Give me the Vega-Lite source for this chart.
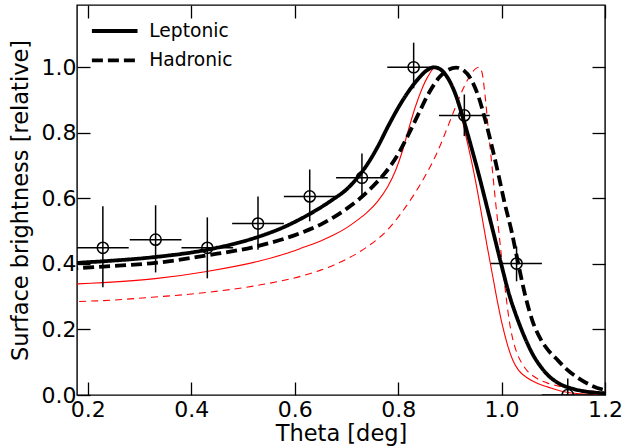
{
  "$schema": "https://vega.github.io/schema/vega-lite/v6.json",
  "width": 528,
  "height": 390,
  "autosize": "none",
  "padding": {"left": 77, "top": 5, "right": 20, "bottom": 53},
  "background": "white",
  "config": {
    "font": "DejaVu Sans",
    "view": {"stroke": "black", "strokeWidth": 1.4},
    "axis": {
      "grid": false,
      "domain": false,
      "tickColor": "black",
      "tickWidth": 1.3,
      "tickSize": -13,
      "labelColor": "black",
      "labelFont": "DejaVu Sans",
      "labelFontSize": 22,
      "labelFlush": false,
      "labelOverlap": false,
      "labelBound": false,
      "titleFont": "DejaVu Sans",
      "titleFontSize": 22.5,
      "titleFontWeight": "normal",
      "titleColor": "black"
    }
  },
  "datasets": {
    "curves": [
      {"theta": 0.16, "brightness": 0.400, "model": "Leptonic", "variant": "main"},
      {"theta": 0.18, "brightness": 0.403, "model": "Leptonic", "variant": "main"},
      {"theta": 0.23, "brightness": 0.408, "model": "Leptonic", "variant": "main"},
      {"theta": 0.33, "brightness": 0.421, "model": "Leptonic", "variant": "main"},
      {"theta": 0.43, "brightness": 0.443, "model": "Leptonic", "variant": "main"},
      {"theta": 0.53, "brightness": 0.483, "model": "Leptonic", "variant": "main"},
      {"theta": 0.58, "brightness": 0.513, "model": "Leptonic", "variant": "main"},
      {"theta": 0.611, "brightness": 0.537, "model": "Leptonic", "variant": "main"},
      {"theta": 0.65, "brightness": 0.572, "model": "Leptonic", "variant": "main"},
      {"theta": 0.675, "brightness": 0.598, "model": "Leptonic", "variant": "main"},
      {"theta": 0.70, "brightness": 0.627, "model": "Leptonic", "variant": "main"},
      {"theta": 0.72, "brightness": 0.661, "model": "Leptonic", "variant": "main"},
      {"theta": 0.74, "brightness": 0.703, "model": "Leptonic", "variant": "main"},
      {"theta": 0.76, "brightness": 0.756, "model": "Leptonic", "variant": "main"},
      {"theta": 0.78, "brightness": 0.818, "model": "Leptonic", "variant": "main"},
      {"theta": 0.80, "brightness": 0.876, "model": "Leptonic", "variant": "main"},
      {"theta": 0.82, "brightness": 0.926, "model": "Leptonic", "variant": "main"},
      {"theta": 0.84, "brightness": 0.967, "model": "Leptonic", "variant": "main"},
      {"theta": 0.855, "brightness": 0.99, "model": "Leptonic", "variant": "main"},
      {"theta": 0.869, "brightness": 1.0, "model": "Leptonic", "variant": "main"},
      {"theta": 0.883, "brightness": 0.992, "model": "Leptonic", "variant": "main"},
      {"theta": 0.898, "brightness": 0.962, "model": "Leptonic", "variant": "main"},
      {"theta": 0.911, "brightness": 0.917, "model": "Leptonic", "variant": "main"},
      {"theta": 0.924, "brightness": 0.853, "model": "Leptonic", "variant": "main"},
      {"theta": 0.94, "brightness": 0.765, "model": "Leptonic", "variant": "main"},
      {"theta": 0.956, "brightness": 0.672, "model": "Leptonic", "variant": "main"},
      {"theta": 0.97, "brightness": 0.585, "model": "Leptonic", "variant": "main"},
      {"theta": 0.985, "brightness": 0.49, "model": "Leptonic", "variant": "main"},
      {"theta": 1.0, "brightness": 0.395, "model": "Leptonic", "variant": "main"},
      {"theta": 1.015, "brightness": 0.305, "model": "Leptonic", "variant": "main"},
      {"theta": 1.03, "brightness": 0.235, "model": "Leptonic", "variant": "main"},
      {"theta": 1.045, "brightness": 0.175, "model": "Leptonic", "variant": "main"},
      {"theta": 1.06, "brightness": 0.125, "model": "Leptonic", "variant": "main"},
      {"theta": 1.075, "brightness": 0.088, "model": "Leptonic", "variant": "main"},
      {"theta": 1.09, "brightness": 0.06, "model": "Leptonic", "variant": "main"},
      {"theta": 1.11, "brightness": 0.036, "model": "Leptonic", "variant": "main"},
      {"theta": 1.14, "brightness": 0.018, "model": "Leptonic", "variant": "main"},
      {"theta": 1.17, "brightness": 0.009, "model": "Leptonic", "variant": "main"},
      {"theta": 1.2, "brightness": 0.005, "model": "Leptonic", "variant": "main"},
      {"theta": 1.22, "brightness": 0.003, "model": "Leptonic", "variant": "main"},

      {"theta": 0.16, "brightness": 0.384, "model": "Hadronic", "variant": "main"},
      {"theta": 0.18, "brightness": 0.387, "model": "Hadronic", "variant": "main"},
      {"theta": 0.23, "brightness": 0.392, "model": "Hadronic", "variant": "main"},
      {"theta": 0.33, "brightness": 0.403, "model": "Hadronic", "variant": "main"},
      {"theta": 0.43, "brightness": 0.426, "model": "Hadronic", "variant": "main"},
      {"theta": 0.53, "brightness": 0.455, "model": "Hadronic", "variant": "main"},
      {"theta": 0.611, "brightness": 0.494, "model": "Hadronic", "variant": "main"},
      {"theta": 0.65, "brightness": 0.52, "model": "Hadronic", "variant": "main"},
      {"theta": 0.675, "brightness": 0.542, "model": "Hadronic", "variant": "main"},
      {"theta": 0.70, "brightness": 0.568, "model": "Hadronic", "variant": "main"},
      {"theta": 0.727, "brightness": 0.601, "model": "Hadronic", "variant": "main"},
      {"theta": 0.75, "brightness": 0.635, "model": "Hadronic", "variant": "main"},
      {"theta": 0.775, "brightness": 0.678, "model": "Hadronic", "variant": "main"},
      {"theta": 0.80, "brightness": 0.735, "model": "Hadronic", "variant": "main"},
      {"theta": 0.82, "brightness": 0.795, "model": "Hadronic", "variant": "main"},
      {"theta": 0.84, "brightness": 0.86, "model": "Hadronic", "variant": "main"},
      {"theta": 0.86, "brightness": 0.923, "model": "Hadronic", "variant": "main"},
      {"theta": 0.88, "brightness": 0.97, "model": "Hadronic", "variant": "main"},
      {"theta": 0.897, "brightness": 0.992, "model": "Hadronic", "variant": "main"},
      {"theta": 0.912, "brightness": 0.999, "model": "Hadronic", "variant": "main"},
      {"theta": 0.927, "brightness": 0.99, "model": "Hadronic", "variant": "main"},
      {"theta": 0.94, "brightness": 0.966, "model": "Hadronic", "variant": "main"},
      {"theta": 0.955, "brightness": 0.912, "model": "Hadronic", "variant": "main"},
      {"theta": 0.969, "brightness": 0.836, "model": "Hadronic", "variant": "main"},
      {"theta": 0.982, "brightness": 0.754, "model": "Hadronic", "variant": "main"},
      {"theta": 0.995, "brightness": 0.665, "model": "Hadronic", "variant": "main"},
      {"theta": 1.005, "brightness": 0.592, "model": "Hadronic", "variant": "main"},
      {"theta": 1.02, "brightness": 0.495, "model": "Hadronic", "variant": "main"},
      {"theta": 1.033, "brightness": 0.395, "model": "Hadronic", "variant": "main"},
      {"theta": 1.046, "brightness": 0.302, "model": "Hadronic", "variant": "main"},
      {"theta": 1.06, "brightness": 0.225, "model": "Hadronic", "variant": "main"},
      {"theta": 1.075, "brightness": 0.172, "model": "Hadronic", "variant": "main"},
      {"theta": 1.09, "brightness": 0.137, "model": "Hadronic", "variant": "main"},
      {"theta": 1.105, "brightness": 0.112, "model": "Hadronic", "variant": "main"},
      {"theta": 1.125, "brightness": 0.08, "model": "Hadronic", "variant": "main"},
      {"theta": 1.15, "brightness": 0.05, "model": "Hadronic", "variant": "main"},
      {"theta": 1.175, "brightness": 0.028, "model": "Hadronic", "variant": "main"},
      {"theta": 1.2, "brightness": 0.015, "model": "Hadronic", "variant": "main"},
      {"theta": 1.22, "brightness": 0.01, "model": "Hadronic", "variant": "main"},

      {"theta": 0.16, "brightness": 0.337, "model": "Leptonic", "variant": "alt"},
      {"theta": 0.18, "brightness": 0.339, "model": "Leptonic", "variant": "alt"},
      {"theta": 0.23, "brightness": 0.343, "model": "Leptonic", "variant": "alt"},
      {"theta": 0.33, "brightness": 0.355, "model": "Leptonic", "variant": "alt"},
      {"theta": 0.43, "brightness": 0.377, "model": "Leptonic", "variant": "alt"},
      {"theta": 0.53, "brightness": 0.408, "model": "Leptonic", "variant": "alt"},
      {"theta": 0.58, "brightness": 0.43, "model": "Leptonic", "variant": "alt"},
      {"theta": 0.611, "brightness": 0.447, "model": "Leptonic", "variant": "alt"},
      {"theta": 0.65, "brightness": 0.47, "model": "Leptonic", "variant": "alt"},
      {"theta": 0.675, "brightness": 0.488, "model": "Leptonic", "variant": "alt"},
      {"theta": 0.70, "brightness": 0.51, "model": "Leptonic", "variant": "alt"},
      {"theta": 0.72, "brightness": 0.532, "model": "Leptonic", "variant": "alt"},
      {"theta": 0.74, "brightness": 0.557, "model": "Leptonic", "variant": "alt"},
      {"theta": 0.76, "brightness": 0.59, "model": "Leptonic", "variant": "alt"},
      {"theta": 0.78, "brightness": 0.636, "model": "Leptonic", "variant": "alt"},
      {"theta": 0.795, "brightness": 0.685, "model": "Leptonic", "variant": "alt"},
      {"theta": 0.808, "brightness": 0.743, "model": "Leptonic", "variant": "alt"},
      {"theta": 0.82, "brightness": 0.81, "model": "Leptonic", "variant": "alt"},
      {"theta": 0.833, "brightness": 0.878, "model": "Leptonic", "variant": "alt"},
      {"theta": 0.845, "brightness": 0.93, "model": "Leptonic", "variant": "alt"},
      {"theta": 0.858, "brightness": 0.973, "model": "Leptonic", "variant": "alt"},
      {"theta": 0.872, "brightness": 1.0, "model": "Leptonic", "variant": "alt"},
      {"theta": 0.886, "brightness": 0.99, "model": "Leptonic", "variant": "alt"},
      {"theta": 0.901, "brightness": 0.956, "model": "Leptonic", "variant": "alt"},
      {"theta": 0.917, "brightness": 0.887, "model": "Leptonic", "variant": "alt"},
      {"theta": 0.93, "brightness": 0.797, "model": "Leptonic", "variant": "alt"},
      {"theta": 0.943, "brightness": 0.705, "model": "Leptonic", "variant": "alt"},
      {"theta": 0.953, "brightness": 0.625, "model": "Leptonic", "variant": "alt"},
      {"theta": 0.962, "brightness": 0.545, "model": "Leptonic", "variant": "alt"},
      {"theta": 0.972, "brightness": 0.455, "model": "Leptonic", "variant": "alt"},
      {"theta": 0.982, "brightness": 0.37, "model": "Leptonic", "variant": "alt"},
      {"theta": 0.992, "brightness": 0.285, "model": "Leptonic", "variant": "alt"},
      {"theta": 1.002, "brightness": 0.21, "model": "Leptonic", "variant": "alt"},
      {"theta": 1.012, "brightness": 0.15, "model": "Leptonic", "variant": "alt"},
      {"theta": 1.022, "brightness": 0.105, "model": "Leptonic", "variant": "alt"},
      {"theta": 1.033, "brightness": 0.075, "model": "Leptonic", "variant": "alt"},
      {"theta": 1.05, "brightness": 0.052, "model": "Leptonic", "variant": "alt"},
      {"theta": 1.07, "brightness": 0.035, "model": "Leptonic", "variant": "alt"},
      {"theta": 1.09, "brightness": 0.024, "model": "Leptonic", "variant": "alt"},
      {"theta": 1.114, "brightness": 0.012, "model": "Leptonic", "variant": "alt"},
      {"theta": 1.15, "brightness": 0.004, "model": "Leptonic", "variant": "alt"},
      {"theta": 1.22, "brightness": 0.001, "model": "Leptonic", "variant": "alt"},

      {"theta": 0.16, "brightness": 0.283, "model": "Hadronic", "variant": "alt"},
      {"theta": 0.18, "brightness": 0.285, "model": "Hadronic", "variant": "alt"},
      {"theta": 0.23, "brightness": 0.288, "model": "Hadronic", "variant": "alt"},
      {"theta": 0.33, "brightness": 0.299, "model": "Hadronic", "variant": "alt"},
      {"theta": 0.43, "brightness": 0.313, "model": "Hadronic", "variant": "alt"},
      {"theta": 0.53, "brightness": 0.335, "model": "Hadronic", "variant": "alt"},
      {"theta": 0.611, "brightness": 0.362, "model": "Hadronic", "variant": "alt"},
      {"theta": 0.675, "brightness": 0.396, "model": "Hadronic", "variant": "alt"},
      {"theta": 0.714, "brightness": 0.426, "model": "Hadronic", "variant": "alt"},
      {"theta": 0.74, "brightness": 0.452, "model": "Hadronic", "variant": "alt"},
      {"theta": 0.779, "brightness": 0.503, "model": "Hadronic", "variant": "alt"},
      {"theta": 0.805, "brightness": 0.553, "model": "Hadronic", "variant": "alt"},
      {"theta": 0.83, "brightness": 0.61, "model": "Hadronic", "variant": "alt"},
      {"theta": 0.855, "brightness": 0.676, "model": "Hadronic", "variant": "alt"},
      {"theta": 0.876, "brightness": 0.742, "model": "Hadronic", "variant": "alt"},
      {"theta": 0.895, "brightness": 0.815, "model": "Hadronic", "variant": "alt"},
      {"theta": 0.91, "brightness": 0.875, "model": "Hadronic", "variant": "alt"},
      {"theta": 0.925, "brightness": 0.932, "model": "Hadronic", "variant": "alt"},
      {"theta": 0.94, "brightness": 0.977, "model": "Hadronic", "variant": "alt"},
      {"theta": 0.95, "brightness": 0.996, "model": "Hadronic", "variant": "alt"},
      {"theta": 0.956, "brightness": 1.0, "model": "Hadronic", "variant": "alt"},
      {"theta": 0.962, "brightness": 0.985, "model": "Hadronic", "variant": "alt"},
      {"theta": 0.968, "brightness": 0.915, "model": "Hadronic", "variant": "alt"},
      {"theta": 0.975, "brightness": 0.8, "model": "Hadronic", "variant": "alt"},
      {"theta": 0.982, "brightness": 0.69, "model": "Hadronic", "variant": "alt"},
      {"theta": 0.988, "brightness": 0.595, "model": "Hadronic", "variant": "alt"},
      {"theta": 0.995, "brightness": 0.494, "model": "Hadronic", "variant": "alt"},
      {"theta": 1.001, "brightness": 0.405, "model": "Hadronic", "variant": "alt"},
      {"theta": 1.008, "brightness": 0.31, "model": "Hadronic", "variant": "alt"},
      {"theta": 1.014, "brightness": 0.235, "model": "Hadronic", "variant": "alt"},
      {"theta": 1.021, "brightness": 0.175, "model": "Hadronic", "variant": "alt"},
      {"theta": 1.03, "brightness": 0.127, "model": "Hadronic", "variant": "alt"},
      {"theta": 1.04, "brightness": 0.095, "model": "Hadronic", "variant": "alt"},
      {"theta": 1.05, "brightness": 0.073, "model": "Hadronic", "variant": "alt"},
      {"theta": 1.062, "brightness": 0.057, "model": "Hadronic", "variant": "alt"},
      {"theta": 1.088, "brightness": 0.037, "model": "Hadronic", "variant": "alt"},
      {"theta": 1.114, "brightness": 0.026, "model": "Hadronic", "variant": "alt"},
      {"theta": 1.153, "brightness": 0.016, "model": "Hadronic", "variant": "alt"},
      {"theta": 1.2, "brightness": 0.008, "model": "Hadronic", "variant": "alt"},
      {"theta": 1.22, "brightness": 0.006, "model": "Hadronic", "variant": "alt"}
    ],
    "points": [
      {"theta": 0.229, "theta_lo": 0.179, "theta_hi": 0.279, "brightness": 0.449, "b_lo": 0.329, "b_hi": 0.576},
      {"theta": 0.331, "theta_lo": 0.281, "theta_hi": 0.381, "brightness": 0.474, "b_lo": 0.374, "b_hi": 0.579},
      {"theta": 0.431, "theta_lo": 0.381, "theta_hi": 0.481, "brightness": 0.449, "b_lo": 0.356, "b_hi": 0.542},
      {"theta": 0.529, "theta_lo": 0.479, "theta_hi": 0.579, "brightness": 0.523, "b_lo": 0.443, "b_hi": 0.606},
      {"theta": 0.629, "theta_lo": 0.579, "theta_hi": 0.679, "brightness": 0.606, "b_lo": 0.53, "b_hi": 0.688},
      {"theta": 0.73, "theta_lo": 0.68, "theta_hi": 0.78, "brightness": 0.663, "b_lo": 0.6, "b_hi": 0.737},
      {"theta": 0.83, "theta_lo": 0.779, "theta_hi": 0.879, "brightness": 1.0, "b_lo": 0.936, "b_hi": 1.075},
      {"theta": 0.928, "theta_lo": 0.879, "theta_hi": 0.977, "brightness": 0.853, "b_lo": 0.79, "b_hi": 0.917},
      {"theta": 1.029, "theta_lo": 0.979, "theta_hi": 1.078, "brightness": 0.401, "b_lo": 0.347, "b_hi": 0.453},
      {"theta": 1.128, "theta_lo": 1.078, "theta_hi": 1.178, "brightness": 0.0, "b_lo": -0.05, "b_hi": 0.05}
    ]
  },
  "layer": [
    {
      "layer": [
        {
          "data": {"name": "curves"},
          "transform": [{"filter": "datum.variant === 'alt' && datum.model === 'Leptonic'"}],
          "mark": {"type": "line", "color": "#ff0000", "strokeWidth": 1.1, "interpolate": "monotone", "clip": true},
          "encoding": {
            "x": {"field": "theta", "type": "quantitative"},
            "y": {"field": "brightness", "type": "quantitative"}
          }
        },
        {
          "data": {"name": "curves"},
          "transform": [{"filter": "datum.variant === 'alt' && datum.model === 'Hadronic'"}],
          "mark": {"type": "line", "color": "#ff0000", "strokeWidth": 1.1, "strokeDash": [7, 5], "interpolate": "monotone", "clip": true},
          "encoding": {
            "x": {"field": "theta", "type": "quantitative"},
            "y": {"field": "brightness", "type": "quantitative"}
          }
        },
        {
          "data": {"name": "curves"},
          "transform": [{"filter": "datum.variant === 'main'"}],
          "mark": {"type": "line", "color": "black", "strokeWidth": 3.8, "interpolate": "monotone", "clip": true},
          "encoding": {
            "x": {"field": "theta", "type": "quantitative"},
            "y": {"field": "brightness", "type": "quantitative"},
            "strokeDash": {
              "field": "model",
              "type": "nominal",
              "scale": {"domain": ["Leptonic", "Hadronic"], "range": [[1, 0], [11, 5]]},
              "legend": {
                "title": null,
                "orient": "none",
                "legendX": 12.7,
                "legendY": 16.5,
                "padding": 0,
                "symbolType": "stroke",
                "symbolSize": 2080,
                "symbolStrokeWidth": 3.8,
                "symbolStrokeColor": "black",
                "clipHeight": 19,
                "rowPadding": 9.3,
                "labelOffset": 9.5,
                "labelFont": "DejaVu Sans",
                "labelFontSize": 18.7,
                "labelColor": "black"
              }
            }
          }
        },
        {
          "data": {"name": "points"},
          "mark": {"type": "rule", "color": "black", "strokeWidth": 1.5, "clip": true},
          "encoding": {
            "x": {"field": "theta_lo", "type": "quantitative"},
            "x2": {"field": "theta_hi"},
            "y": {"field": "brightness", "type": "quantitative"}
          }
        },
        {
          "data": {"name": "points"},
          "mark": {"type": "rule", "color": "black", "strokeWidth": 1.5, "clip": true},
          "encoding": {
            "x": {"field": "theta", "type": "quantitative"},
            "y": {"field": "b_lo", "type": "quantitative"},
            "y2": {"field": "b_hi"}
          }
        },
        {
          "data": {"name": "points"},
          "mark": {"type": "point", "shape": "circle", "filled": false, "size": 125, "stroke": "black", "strokeWidth": 1.5, "opacity": 1, "clip": true},
          "encoding": {
            "x": {
              "field": "theta", "type": "quantitative",
              "scale": {"domain": [0.179, 1.2], "nice": false, "zero": false},
              "axis": {"orient": "bottom", "values": [0.2, 0.4, 0.6, 0.8, 1.0, 1.2], "format": ".1f", "labelFontSize": 22, "labelPadding": 17, "title": "Theta [deg]", "titleFontSize": 22.5, "titlePadding": 2.5}
            },
            "y": {
              "field": "brightness", "type": "quantitative",
              "scale": {"domain": [0, 1.19], "nice": false, "zero": false},
              "axis": {"orient": "left", "values": [0, 0.2, 0.4, 0.6, 0.8, 1.0], "format": ".1f", "labelFontSize": 22, "labelPadding": 14, "title": "Surface brightness [relative]", "titleFontSize": 22.5, "titlePadding": 9}
            }
          }
        }
      ]
    },
    {
      "data": {"name": "points"},
      "mark": {"type": "point", "opacity": 0},
      "encoding": {
        "x": {
          "field": "theta", "type": "quantitative",
          "axis": {"orient": "top", "values": [0.2, 0.4, 0.6, 0.8, 1.0, 1.2], "labels": false, "title": null}
        },
        "y": {
          "field": "brightness", "type": "quantitative",
          "axis": {"orient": "right", "values": [0.2, 0.4, 0.6, 0.8, 1.0], "labels": false, "title": null}
        }
      }
    }
  ],
  "resolve": {"axis": {"x": "independent", "y": "independent"}}
}
